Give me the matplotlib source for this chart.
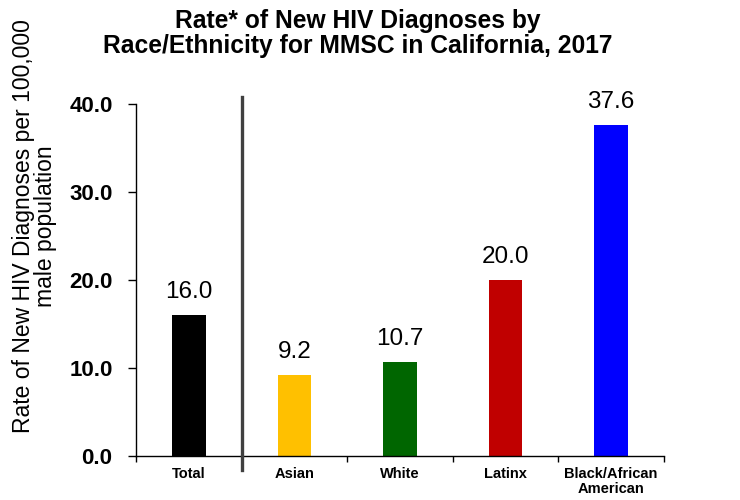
import matplotlib
matplotlib.use("Agg")
import matplotlib.pyplot as plt
import numpy as np

categories = ["Total", "Asian", "White", "Latinx", "Black/African\nAmerican"]
rates = [16.0, 9.2, 10.7, 20.0, 37.6]
bar_colors = ["#000000", "#FFC000", "#006600", "#C00000", "#0000FF"]
ytick_values = [0, 10, 20, 30, 40]

plt.rcParams["font.family"] = ["Liberation Sans", "DejaVu Sans"]

fig = plt.figure(figsize=(7.4, 5.0), dpi=100)
ax = fig.add_axes([0.184, 0.0886, 0.713, 0.7034])

x = np.arange(len(categories))
ax.bar(x, rates, width=0.32, color=bar_colors, zorder=2)

for xi, v in zip(x, rates):
    ax.annotate(f"{v:.1f}", (xi, v), xytext=(0, 12), textcoords="offset points",
                ha="center", va="baseline", fontsize=17.5)

ax.set_xlim(-0.5, len(categories) - 0.5)
ax.set_ylim(0, 40)
ax.set_yticks(ytick_values)
ax.set_yticklabels([f"{v:.1f}" for v in ytick_values], fontsize=16, fontweight="bold")
ax.set_xticks(x)
ax.set_xticklabels(categories, fontsize=10.5, fontweight="bold", linespacing=1.15)
ax.set_xticks(np.arange(len(categories) + 1) - 0.5, minor=True)
ax.tick_params(axis="x", which="major", length=0, pad=8)
ax.tick_params(axis="x", which="minor", length=4, direction="out", width=1)
ax.tick_params(axis="y", length=6, direction="out", width=1, pad=11)

for side in ("top", "right"):
    ax.spines[side].set_visible(False)
for side in ("left", "bottom"):
    ax.spines[side].set_linewidth(1.0)
    ax.spines[side].set_color("black")

# divider between the overall total and the race/ethnicity groups
ax.plot([0.5, 0.5], [-1.6, 40.8], color="#404040", lw=2.4, clip_on=False, zorder=3)

ax.set_ylabel("Rate of New HIV Diagnoses per 100,000\nmale population", fontsize=16.5,
              linespacing=0.95)
ax.yaxis.set_label_coords(-0.150, 0.653)

fig.text(0.483, 0.982, "Rate* of New HIV Diagnoses by\nRace/Ethnicity for MMSC in California, 2017",
         ha="center", va="top", fontsize=17.7, fontweight="bold", linespacing=1.05)

fig.savefig("out.png", dpi=100)
